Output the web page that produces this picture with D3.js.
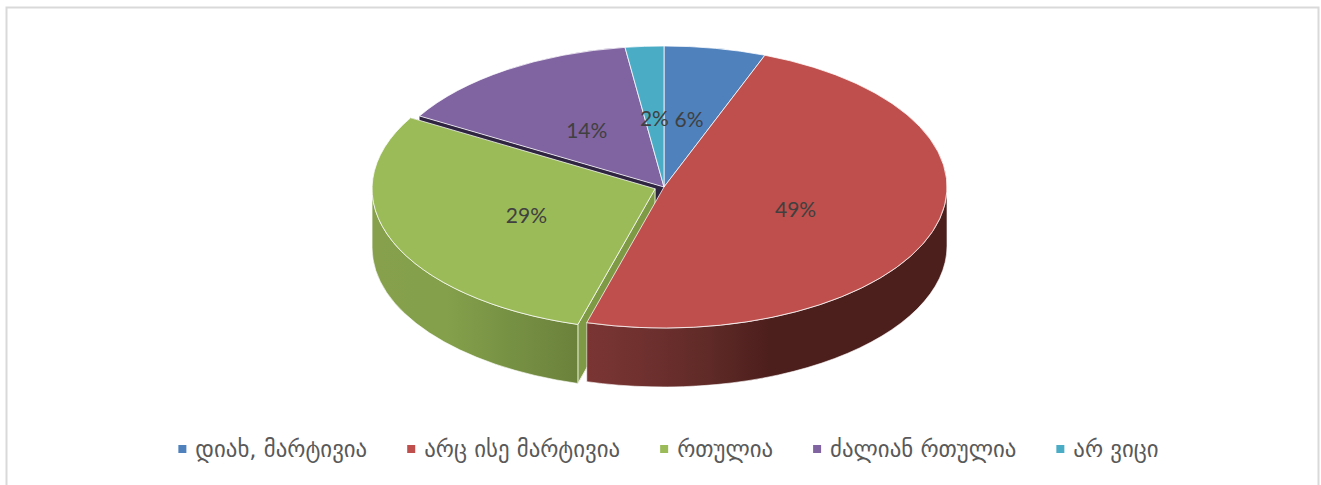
<!DOCTYPE html>
<html>
<head>
<meta charset="utf-8">
<script src="https://cdn.jsdelivr.net/npm/d3@7"></script>
<style>
  html, body { margin: 0; padding: 0; background: #fff; }
  svg { display: block; }
  .label { font-family: Lato, "Open Sans", sans-serif; font-size: 21px; fill: #404040; text-anchor: middle; }
  .legend-text { font-family: "DejaVu Sans", sans-serif; font-size: 22.8px; fill: #595959; }
</style>
</head>
<body>
<svg id="chart" width="1321" height="485"></svg>
<script>
const categories = ['დიახ, მარტივია', 'არც ისე მარტივია', 'რთულია', 'ძალიან რთულია', 'არ ვიცი'];
const values = [5.8, 48.6, 29.0, 14.4, 2.2];
const colors = ['#4f81bd', '#be4f4c', '#9bbb59', '#8064a2', '#4bacc6'];

const width = 1321, height = 485;
const cx = 664, cy = 187, rx = 283, ry = 141, depth = 59;
const explodedIdx = 2, explode = 0.034;
const labelR = 0.49;

const svg = d3.select('#chart');
const defs = svg.append('defs');

// plate border
svg.append('path')
  .attr('d', `M6.5,${height}V7.5H1318.5V${height}`)
  .attr('fill', 'none').attr('stroke', '#d9d9d9').attr('stroke-width', 2);

const arcs = d3.pie().value(d => d).sort(null)(values);

// unit circle -> screen
const sx = d3.scaleLinear().domain([-1, 1]).range([cx - rx, cx + rx]);
const sy = d3.scaleLinear().domain([-1, 1]).range([cy - ry, cy + ry]);
const offset = (a, i) => {
  if (i !== explodedIdx) return [0, 0];
  const m = (a.startAngle + a.endAngle) / 2;
  return [Math.sin(m) * explode, -Math.cos(m) * explode];
};
const pt = (ang, r, off, dz = 0) => [
  sx(off[0] + r * Math.sin(ang)),
  sy(off[1] - r * Math.cos(ang)) + dz
];

function topPath(a, i) {
  const off = offset(a, i);
  const c = pt(0, 0, off), s = pt(a.startAngle, 1, off), e = pt(a.endAngle, 1, off);
  const large = a.endAngle - a.startAngle > Math.PI ? 1 : 0;
  return `M${c}L${s}A${rx},${ry} 0 ${large} 1 ${e}Z`;
}

// outer wall, only the part facing the viewer (angles between 90 and 270 deg)
function sidePath(a, i) {
  const off = offset(a, i);
  const s0 = Math.max(a.startAngle, Math.PI / 2), e0 = Math.min(a.endAngle, Math.PI * 1.5);
  if (e0 <= s0) return null;
  const p1 = pt(s0, 1, off), p2 = pt(e0, 1, off), p3 = pt(e0, 1, off, depth), p4 = pt(s0, 1, off, depth);
  return `M${p1}A${rx},${ry} 0 0 1 ${p2}L${p3}A${rx},${ry} 0 0 0 ${p4}Z`;
}

// flat cut face from the centre out to the rim at the given angle
function cutPath(ang, i, a) {
  const off = offset(a, i);
  const c = pt(0, 0, off), e = pt(ang, 1, off);
  return `M${c}L${e}L${pt(ang, 1, off, depth)}L${pt(0, 0, off, depth)}Z`;
}

const gradStops = {
  1: ['#7a3533', '#6e302e', '#5f2a27', '#4c1e1c'],
  2: ['#86a04c', '#84a04b', '#769043', '#6a813b']
};
Object.entries(gradStops).forEach(([i, stops]) => {
  const g = defs.append('linearGradient').attr('id', 'side' + i)
    .attr('gradientUnits', 'userSpaceOnUse')
    .attr('x1', +i === 1 ? 587 : cx - rx).attr('x2', +i === 1 ? 770 : 580)
    .attr('y1', 0).attr('y2', 0);
  stops.forEach((c, k) => g.append('stop').attr('offset', k / (stops.length - 1)).attr('stop-color', c));
});

const pie = svg.append('g');

// back faces first
pie.append('path').attr('d', cutPath(arcs[3].startAngle, 3, arcs[3])).attr('fill', '#2f2540');
pie.append('path').attr('d', cutPath(arcs[2].endAngle, 2, arcs[2])).attr('fill', '#2f2540');
pie.append('path').attr('d', cutPath(arcs[2].startAngle, 2, arcs[2])).attr('fill', '#7f9a45')
  .attr('stroke', '#e9efd8').attr('stroke-width', 1);

// walls
arcs.forEach((a, i) => {
  const d = sidePath(a, i);
  if (!d) return;
  pie.append('path').attr('d', d).attr('fill', `url(#side${i})`)
    .attr('stroke', '#fff').attr('stroke-opacity', 0.6).attr('stroke-width', 1);
});

// tops
arcs.forEach((a, i) => {
  pie.append('path').attr('d', topPath(a, i)).attr('fill', colors[i])
    .attr('stroke', '#fff').attr('stroke-opacity', 0.75).attr('stroke-width', 1).attr('stroke-linejoin', 'round');
});

// labels
const fmt = d3.format('.0f');
arcs.forEach((a, i) => {
  const off = offset(a, i);
  const p = pt((a.startAngle + a.endAngle) / 2, labelR, off);
  svg.append('text').attr('class', 'label')
    .attr('x', p[0]).attr('y', p[1] + 1).attr('dy', '0.35em')
    .text(fmt(values[i]) + '%');
});

// legend
const legend = svg.append('g');
const items = categories.map((c, i) => {
  const g = legend.append('g');
  g.append('rect').attr('width', 8).attr('height', 8).attr('y', -8).attr('fill', colors[i]);
  const t = g.append('text').attr('class', 'legend-text').attr('x', 17).attr('y', 4).text(c);
  return { g, w: 17 + t.node().getComputedTextLength() };
});
const gap = 40;
const total = d3.sum(items, d => d.w) + gap * (items.length - 1);
let lx = (178 + 1159) / 2 - total / 2;
items.forEach(d => {
  d.g.attr('transform', `translate(${lx},453)`);
  lx += d.w + gap;
});
</script>
</body>
</html>
